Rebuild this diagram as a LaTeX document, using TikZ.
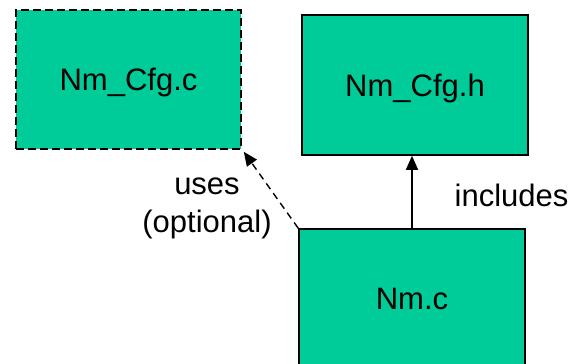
\documentclass[tikz,border=0pt]{standalone}
\usepackage{fontspec}
\setmainfont{Liberation Sans}
\usepackage{xcolor}
\usetikzlibrary{arrows.meta, positioning, calc}

\definecolor{filegreen}{HTML}{00CC99}

\tikzset{
  filebox/.style={draw=black, fill=filegreen, line width=1.6pt,
    minimum width=226pt, minimum height=140pt, inner sep=0pt, text depth=0pt,
    font=\fontsize{31}{38}\selectfont},
  optbox/.style={filebox, dash pattern=on 8pt off 4pt},
  linktext/.style={font=\fontsize{31}{38}\selectfont, align=center, inner sep=0pt},
  deparrow/.style={line width=1.4pt, -{Triangle[length=14pt, width=12pt]}},
}

\begin{document}
\begin{tikzpicture}[x=1pt, y=1pt]
  % Page frame
  \useasboundingbox (0,0) rectangle (574,364);

  % Files
  \node[optbox, minimum width=225pt, minimum height=139pt] (cfgc) at (128.5,284.5) {Nm\_Cfg.c};
  \node[filebox] (cfgh) at (415,279) {Nm\_Cfg.h};
  \node[filebox] (nmc) at (412,65) {Nm.c};

  % Dependencies
  \draw[deparrow] (nmc.north) -- (nmc.north |- cfgh.south);
  \draw[deparrow, dash pattern=on 7pt off 5pt]
    (nmc.north west) -- ($(cfgc.south east)+(2,-2)$);

  % Labels
  \node[linktext] (usestext) at (207,156) {uses\\(optional)};
  \node[linktext, anchor=base] (inctext) at (511.5,157.3) {includes};
\end{tikzpicture}
\end{document}
